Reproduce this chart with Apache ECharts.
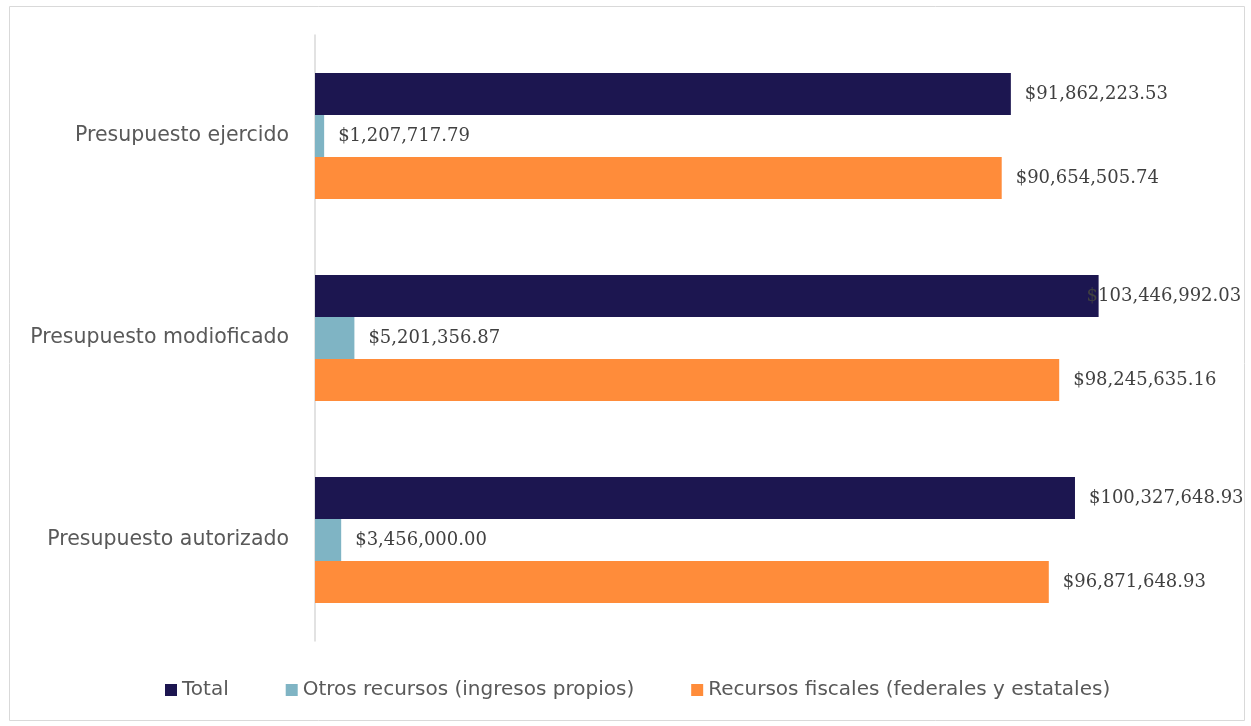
<!DOCTYPE html>
<html>
<head>
<meta charset="utf-8">
<script src="https://cdn.jsdelivr.net/npm/echarts@6/dist/echarts.min.js"></script>
<style>
  html, body { margin: 0; padding: 0; background: #fff; }
  #chart { width: 1251px; height: 726px; }
</style>
</head>
<body>
<div id="chart"></div>
<script>
const categories = ['Presupuesto ejercido', 'Presupuesto modioficado', 'Presupuesto autorizado'];
const seriesNames = ['Total', 'Otros recursos (ingresos propios)', 'Recursos fiscales (federales y estatales)'];
const totalValues = [91862223.53, 103446992.03, 100327648.93];
const otrosValues = [1207717.79, 5201356.87, 3456000.00];
const fiscalesValues = [90654505.74, 98245635.16, 96871648.93];
const colors = ['#1c1650', '#7fb4c4', '#ff8c3a'];

const chart = echarts.init(document.getElementById('chart'));

function money(v) {
    return '$' + v.toLocaleString('en-US', { minimumFractionDigits: 2, maximumFractionDigits: 2 });
}

const labelStyle = {
    show: true,
    position: 'right',
    distance: 14,
    color: '#404040',
    fontFamily: 'DejaVu Serif',
    fontSize: 18,
    formatter: p => money(p.value)
};

function makeSeries(name, values, color) {
    return {
        name: name,
        type: 'bar',
        barGap: '0%',
        barCategoryGap: '37.6%',
        itemStyle: { color: color },
        label: labelStyle,
        data: values.map(v => ({ value: v })),
        animation: false
    };
}

const series = [
    makeSeries(seriesNames[0], totalValues, colors[0]),
    makeSeries(seriesNames[1], otrosValues, colors[1]),
    makeSeries(seriesNames[2], fiscalesValues, colors[2])
];
// Excel draws this label over the end of the bar
series[0].data[1].label = { offset: [-26, 0] };

const option = {
    graphic: [{
        type: 'rect',
        shape: { x: 9.5, y: 6.5, width: 1235, height: 714 },
        style: { fill: 'none', stroke: '#d9d9d9', lineWidth: 1 },
        silent: true
    }],
    grid: { left: 315, top: 35, width: 909, height: 606 },
    legend: {
        bottom: 21,
        left: 160,
        itemGap: 57,
        itemWidth: 12,
        itemHeight: 12,
        icon: 'rect',
        textStyle: { color: '#595959', fontSize: 20, fontFamily: 'DejaVu Sans' },
        data: seriesNames
    },
    xAxis: {
        type: 'value',
        min: 0,
        max: 120000000,
        show: false
    },
    yAxis: {
        type: 'category',
        inverse: true,
        data: categories,
        axisLine: { lineStyle: { color: '#d9d9d9', width: 1.5 } },
        axisTick: { show: false },
        axisLabel: { color: '#595959', fontSize: 20.5, fontFamily: 'DejaVu Sans', margin: 26 }
    },
    series: series
};

chart.setOption(option);
</script>
</body>
</html>
